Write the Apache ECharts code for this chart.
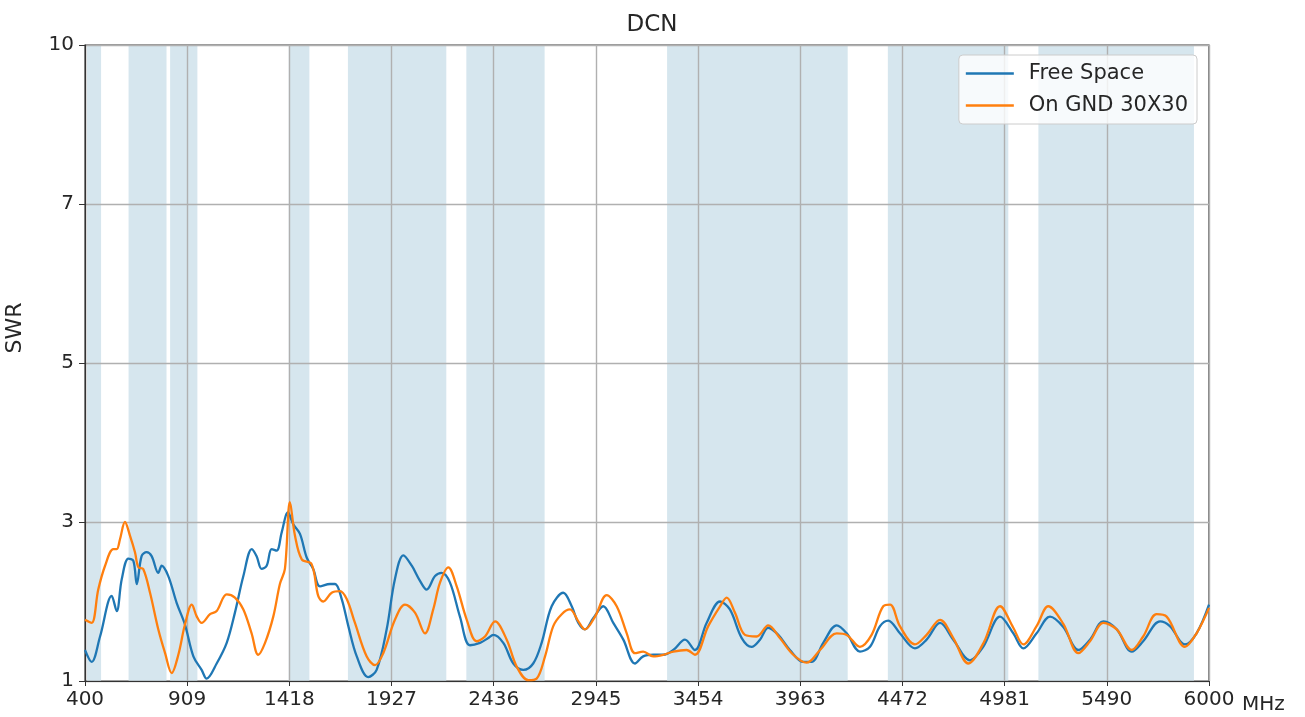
<!DOCTYPE html>
<html>
<head>
<meta charset="utf-8">
<script src="https://cdn.jsdelivr.net/npm/echarts@6/dist/echarts.min.js"></script>
<style>
html,body{margin:0;padding:0;background:#fff;}
#chart{width:1305px;height:717px;}
</style>
</head>
<body>
<div id="chart"></div>
<script>
const chartTitle = 'DCN';
const seriesNames = ['Free Space', 'On GND 30X30'];
const xTickLabels = ['400','909','1418','1927','2436','2945','3454','3963','4472','4981','5490','6000'];
const yTickValues = [1, 3, 5, 7, 10];

const freqBlue = [400,433,475,533,558,583,616,641,658,682,707,732,765,782,815,857,898,940,981,1006,1056,1106,1147,1189,1231,1255,1280,1305,1330,1355,1380,1411,1438,1471,1505,1537,1571,1621,1646,1679,1712,1754,1811,1853,1903,1944,1986,2028,2069,2102,2144,2177,2218,2268,2318,2368,2409,2434,2484,2534,2584,2633,2675,2725,2783,2825,2858,2891,2932,2982,3032,3082,3140,3181,3231,3281,3331,3389,3439,3497,3564,3613,3672,3721,3763,3804,3854,3912,3979,4020,4078,4145,4195,4261,4311,4361,4402,4460,4535,4593,4660,4726,4809,4875,4959,5025,5075,5141,5208,5274,5349,5407,5474,5540,5615,5672,5756,5805,5880,5938,6000];
const swrBlue = [1.39,1.24,1.56,2.07,1.88,2.28,2.54,2.51,2.22,2.57,2.62,2.57,2.36,2.45,2.32,1.98,1.71,1.31,1.14,1.03,1.22,1.48,1.86,2.32,2.66,2.57,2.41,2.45,2.66,2.64,2.87,3.12,2.97,2.85,2.55,2.41,2.19,2.22,2.22,2.03,1.69,1.31,1.05,1.14,1.65,2.28,2.58,2.45,2.26,2.15,2.32,2.36,2.24,1.81,1.45,1.48,1.54,1.58,1.48,1.22,1.14,1.22,1.48,1.94,2.11,1.94,1.73,1.65,1.79,1.94,1.73,1.52,1.22,1.31,1.33,1.33,1.39,1.52,1.39,1.73,2.0,1.90,1.54,1.43,1.52,1.67,1.58,1.39,1.24,1.24,1.48,1.70,1.60,1.37,1.43,1.69,1.76,1.60,1.41,1.52,1.73,1.52,1.26,1.43,1.81,1.60,1.41,1.60,1.81,1.68,1.39,1.52,1.75,1.65,1.37,1.50,1.75,1.69,1.46,1.60,1.96];

const freqOrange = [400,433,466,500,541,558,574,599,624,649,666,690,724,765,799,832,865,898,932,957,981,1023,1056,1106,1147,1189,1230,1263,1297,1338,1371,1396,1421,1446,1480,1529,1562,1587,1629,1670,1704,1745,1803,1845,1886,1944,1994,2044,2094,2135,2169,2210,2252,2302,2351,2393,2443,2501,2551,2609,2650,2692,2733,2775,2816,2858,2891,2941,2999,3049,3099,3140,3181,3231,3281,3331,3397,3439,3505,3564,3597,3638,3688,3746,3804,3862,3929,3995,4062,4145,4195,4261,4319,4377,4411,4460,4535,4593,4660,4726,4801,4877,4959,5025,5075,5141,5199,5274,5349,5407,5474,5540,5615,5672,5739,5789,5880,5938,6000];
const swrOrange = [1.77,1.73,2.15,2.45,2.66,2.66,2.78,3.0,2.83,2.62,2.43,2.41,2.11,1.65,1.35,1.10,1.33,1.71,1.96,1.81,1.73,1.84,1.88,2.09,2.05,1.90,1.60,1.33,1.48,1.81,2.22,2.41,3.25,2.83,2.53,2.47,2.07,2.0,2.11,2.13,2.03,1.73,1.31,1.20,1.35,1.77,1.96,1.86,1.60,1.90,2.24,2.43,2.19,1.77,1.50,1.56,1.75,1.52,1.18,1.01,1.03,1.31,1.69,1.84,1.90,1.75,1.65,1.81,2.08,1.94,1.60,1.35,1.37,1.31,1.33,1.37,1.39,1.33,1.69,1.94,2.05,1.86,1.58,1.56,1.70,1.54,1.33,1.23,1.39,1.60,1.58,1.43,1.58,1.94,1.96,1.69,1.46,1.58,1.77,1.54,1.22,1.48,1.94,1.67,1.46,1.69,1.94,1.72,1.35,1.50,1.73,1.65,1.39,1.56,1.84,1.81,1.43,1.60,1.92];

const bandStart = [410, 617, 824, 1415, 1710, 2300, 3300, 4400, 5150];
const bandEnd   = [480, 806, 960, 1518, 2200, 2690, 4200, 5000, 5925];

// map SWR onto the evenly spaced tick positions of the y axis
function toPos(v) {
  for (let i = 0; i < yTickValues.length - 1; i++) {
    if (v <= yTickValues[i + 1]) return i + (v - yTickValues[i]) / (yTickValues[i + 1] - yTickValues[i]);
  }
  return yTickValues.length - 1;
}
function pairs(fx, sy) { return fx.map((f, i) => [f, toPos(sy[i])]); }

const FONT = 'DejaVu Sans';
const TXT = '#262626';
const LINE_ICON = 'path://M0,0 L48,0 L48,2.4 L0,2.4 Z';
const chart = echarts.init(document.getElementById('chart'), null, {renderer: 'canvas'});

chart.setOption({
  animation: false,
  backgroundColor: '#fff',
  title: {
    text: chartTitle, left: 647, top: 9, textAlign: 'center',
    textStyle: {fontFamily: FONT, fontSize: 23, fontWeight: 'normal', color: TXT}
  },
  legend: {
    data: seriesNames.map(n => ({name: n, icon: LINE_ICON})),
    orient: 'vertical', right: 108, top: 55, z: 10,
    itemWidth: 48, itemHeight: 2.4, itemGap: 11,
    padding: [8, 9, 8, 7],
    backgroundColor: 'rgba(255,255,255,0.8)', borderColor: '#cccccc', borderWidth: 1, borderRadius: 4,
    textStyle: {fontFamily: FONT, fontSize: 21, color: TXT, padding: [0, 0, 0, 10]}
  },
  grid: {left: 85, right: 96, top: 45, bottom: 36, show: true, borderColor: '#333', borderWidth: 1.2, backgroundColor: 'transparent'},
  graphic: [{
    type: 'text', x: 15, y: 328, rotation: Math.PI / 2,
    style: {text: 'SWR', fontFamily: FONT, fontSize: 22, fill: TXT, align: 'center', verticalAlign: 'middle'}
  }],
  xAxis: [
    {type: 'value', min: 400, max: 6000, show: false, position: 'bottom'},
    {
      type: 'value', min: 0, max: xTickLabels.length - 1, interval: 1, position: 'bottom', z: 2,
      name: 'MHz', nameLocation: 'end', nameGap: 33,
      nameTextStyle: {fontFamily: FONT, fontSize: 20, color: TXT, verticalAlign: 'top', padding: [14, 0, 0, 0]},
      axisLine: {show: true, lineStyle: {color: '#333', width: 1.2}},
      axisTick: {show: true, length: 5, lineStyle: {color: '#333'}},
      axisLabel: {fontFamily: FONT, fontSize: 20, color: TXT, margin: 9,
        formatter: (v, i) => xTickLabels[Math.round(v)]},
      splitLine: {show: true, lineStyle: {color: '#b0b0b0', width: 1.4}}
    }
  ],
  yAxis: {
    type: 'value', min: 0, max: yTickValues.length - 1, interval: 1, z: 2,
    axisLine: {show: true, lineStyle: {color: '#333', width: 1.2}},
    axisTick: {show: true, length: 6, lineStyle: {color: '#333'}},
    axisLabel: {fontFamily: FONT, fontSize: 20, color: TXT, margin: 11,
      formatter: (v) => String(yTickValues[Math.round(v)])},
    splitLine: {show: true, lineStyle: {color: '#b0b0b0', width: 1.4}}
  },
  series: [
    {
      name: 'bands', type: 'line', xAxisIndex: 0, data: [], z: 1, silent: true,
      markArea: {
        silent: true,
        itemStyle: {color: 'rgba(200,222,232,0.75)'},
        data: bandStart.map((s, i) => [{xAxis: s}, {xAxis: bandEnd[i]}])
      }
    },
    {
      name: seriesNames[0], type: 'line', xAxisIndex: 0, z: 3,
      data: pairs(freqBlue, swrBlue), symbol: 'none', smooth: 0.35,
      itemStyle: {color: '#1f77b4'}, lineStyle: {color: '#1f77b4', width: 2.3}
    },
    {
      name: seriesNames[1], type: 'line', xAxisIndex: 0, z: 4,
      data: pairs(freqOrange, swrOrange), symbol: 'none', smooth: 0.35,
      itemStyle: {color: '#ff7f0e'}, lineStyle: {color: '#ff7f0e', width: 2.3}
    }
  ]
});
</script>
</body>
</html>
